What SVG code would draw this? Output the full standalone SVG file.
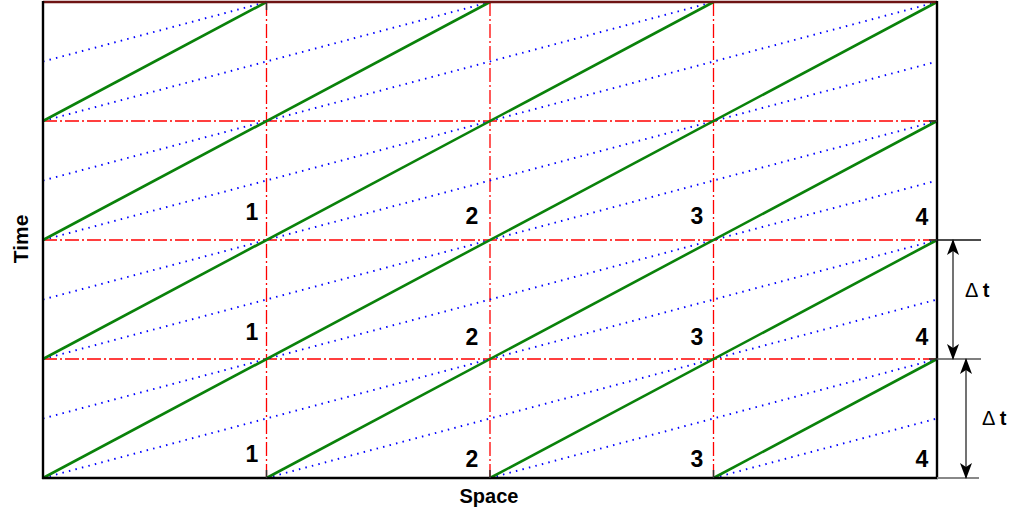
<svg xmlns="http://www.w3.org/2000/svg" width="1018" height="517" viewBox="0 0 1018 517">
<style>
.grn{stroke:#0a820a;stroke-width:2.6;fill:none}
.blu{stroke:#0000ff;stroke-width:1.9;fill:none;stroke-dasharray:1.5 5.2}
.red{stroke:#ff0000;stroke-width:1.3;fill:none;stroke-dasharray:14 3 2 3}
.brd{stroke:#000;stroke-width:2.4;fill:none}
.tick{stroke:#333;stroke-width:1.5}
.num{font-family:"Liberation Sans",Arial,sans-serif;font-weight:bold;font-size:23px;fill:#000;text-anchor:middle}
.ax{font-family:"Liberation Sans",Arial,sans-serif;font-weight:bold;font-size:20px;fill:#000;text-anchor:middle}
.dt{font-family:"Liberation Sans",Arial,sans-serif;font-size:20px;fill:#000}
.arr{stroke:#444;stroke-width:1.5;fill:none}
</style>
<defs>
<marker id="ah" viewBox="0 0 16 12" refX="15" refY="6" markerWidth="16" markerHeight="12" markerUnits="userSpaceOnUse" orient="auto-start-reverse">
<path d="M0,0 L16,6 L0,12 L4,6 Z" fill="#000"/>
</marker>
</defs>
<rect width="1018" height="517" fill="#fff"/>
<g id="grid">
<line class="red" x1="266.5" y1="2" x2="266.5" y2="478"/>
<line class="red" x1="490" y1="2" x2="490" y2="478"/>
<line class="red" x1="713.5" y1="2" x2="713.5" y2="478"/>
<line class="red" x1="43" y1="121" x2="937" y2="121"/>
<line class="red" x1="43" y1="240" x2="937" y2="240"/>
<line class="red" x1="43" y1="359" x2="937" y2="359"/>
</g>
<g id="connectors">
<g id="blue-lines">
<line class="blu" x1="43" y1="478" x2="937" y2="240"/>
<line class="blu" x1="43" y1="418.5" x2="937" y2="180.5"/>
<line class="blu" x1="43" y1="359" x2="937" y2="121"/>
<line class="blu" x1="43" y1="299.5" x2="937" y2="61.5"/>
<line class="blu" x1="43" y1="240" x2="937" y2="2"/>
<line class="blu" x1="43" y1="180.5" x2="713.5" y2="2"/>
<line class="blu" x1="43" y1="121" x2="490" y2="2"/>
<line class="blu" x1="43" y1="61.5" x2="266.5" y2="2"/>
<line class="blu" x1="266.5" y1="478" x2="937" y2="299.5"/>
<line class="blu" x1="490" y1="478" x2="937" y2="359"/>
<line class="blu" x1="713.5" y1="478" x2="937" y2="418.5"/>
</g>
<g id="green-lines">
<line class="grn" x1="43" y1="478" x2="937" y2="2"/>
<line class="grn" x1="43" y1="359" x2="713.5" y2="2"/>
<line class="grn" x1="43" y1="240" x2="490" y2="2"/>
<line class="grn" x1="43" y1="121" x2="266.5" y2="2"/>
<line class="grn" x1="266.5" y1="478" x2="937" y2="121"/>
<line class="grn" x1="490" y1="478" x2="937" y2="240"/>
<line class="grn" x1="713.5" y1="478" x2="937" y2="359"/>
</g>
</g>
<g id="frame">
<line x1="43" y1="2" x2="937" y2="2" stroke="#6e1414" stroke-width="2.6"/>
<line class="brd" x1="43" y1="1" x2="43" y2="479"/>
<line class="brd" x1="937" y1="1" x2="937" y2="479"/>
<line class="brd" x1="42" y1="478" x2="938" y2="478"/>
<line class="tick" x1="266.5" y1="470" x2="266.5" y2="478"/>
<line class="tick" x1="490" y1="470" x2="490" y2="478"/>
<line class="tick" x1="713.5" y1="470" x2="713.5" y2="478"/>
<line class="tick" x1="266.5" y1="2" x2="266.5" y2="10"/>
<line class="tick" x1="929" y1="121" x2="937" y2="121"/>
<line class="tick" x1="929" y1="240" x2="937" y2="240"/>
<line class="tick" x1="929" y1="359" x2="937" y2="359"/>
</g>
<g id="labels">
<text class="num" x="252" y="220">1</text>
<text class="num" x="472" y="224">2</text>
<text class="num" x="697" y="224">3</text>
<text class="num" x="922" y="225">4</text>
<text class="num" x="252" y="340">1</text>
<text class="num" x="472" y="345">2</text>
<text class="num" x="697" y="345">3</text>
<text class="num" x="922" y="345">4</text>
<text class="num" x="252" y="462">1</text>
<text class="num" x="472" y="467">2</text>
<text class="num" x="697" y="467">3</text>
<text class="num" x="922" y="467">4</text>
<text class="ax" x="489" y="503">Space</text>
<text class="ax" transform="translate(28,239) rotate(-90)" x="0" y="0" style="font-size:21px">Time</text>
</g>
<g id="dt1">
<line x1="937" y1="240" x2="981" y2="240" stroke="#111" stroke-width="1.3"/>
<line x1="937" y1="359" x2="981" y2="359" stroke="#555" stroke-width="1.3"/>
<line class="arr" x1="953" y1="240" x2="953" y2="359" marker-start="url(#ah)" marker-end="url(#ah)"/>
<text class="dt" x="965" y="297">Δ <tspan font-weight="bold">t</tspan></text>
</g>
<g id="dt2">
<line x1="937" y1="478" x2="979" y2="478" stroke="#888" stroke-width="2"/>
<line class="arr" x1="966" y1="359" x2="966" y2="478" marker-start="url(#ah)" marker-end="url(#ah)"/>
<text class="dt" x="982" y="425">Δ <tspan font-weight="bold">t</tspan></text>
</g>
</svg>
